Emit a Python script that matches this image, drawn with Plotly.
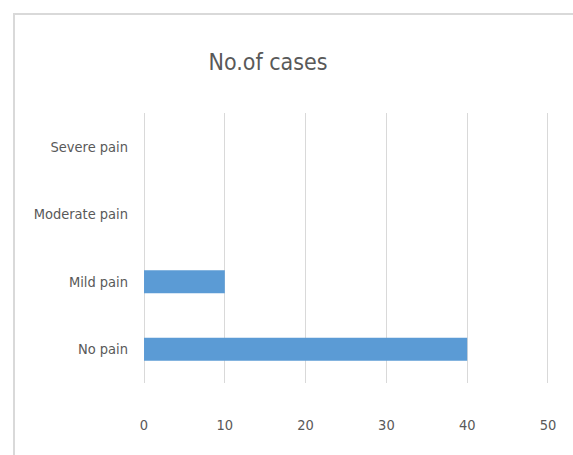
import plotly.graph_objects as go

# Pain levels (bottom to top) and number of cases
categories = ["No pain", "Mild pain", "Moderate pain", "Severe pain"]
cases = [40, 10, 0, 0]
x_ticks = [0, 10, 20, 30, 40, 50]

W, H = 573, 455
L, R, T, B = 142, 23, 113, 72
pw, ph = W - L - R, H - T - B

def px_x(px):
    return (px - L) / pw

def px_y(py):
    return (H - B - py) / ph

font_name = "Liberation Sans Narrow, DejaVu Sans Condensed, Roboto, sans-serif"
label_grey = "#595959"

fig = go.Figure(
    go.Bar(
        x=cases,
        y=categories,
        orientation="h",
        marker=dict(color="#5b9bd5", line=dict(width=0)),
        hoverinfo="x+y",
    )
)

fig.update_layout(
    width=W,
    height=H,
    margin=dict(l=L, r=R, t=T, b=B, pad=0),
    paper_bgcolor="white",
    plot_bgcolor="white",
    showlegend=False,
    bargap=0.66,
    font=dict(family=font_name, color=label_grey, size=14),
    title=dict(
        text="No.of cases",
        x=268 / W,
        xanchor="center",
        y=1 - 62 / H,
        yanchor="middle",
        font=dict(family=font_name, size=23, color=label_grey),
    ),
    xaxis=dict(
        range=[-0.25, 50.25],
        tickvals=x_ticks,
        showgrid=True,
        gridcolor="#d9d9d9",
        gridwidth=1,
        zeroline=False,
        showline=False,
        ticks="",
        ticklabelstandoff=31,
        tickfont=dict(size=14.5, color=label_grey),
        fixedrange=True,
    ),
    yaxis=dict(
        showgrid=False,
        zeroline=False,
        showline=False,
        ticks="",
        ticklabelstandoff=13,
        tickfont=dict(size=14.5, color=label_grey),
        fixedrange=True,
    ),
    shapes=[
        dict(
            type="rect",
            xref="paper",
            yref="paper",
            x0=px_x(14),
            x1=px_x(590),
            y0=px_y(470),
            y1=px_y(14),
            line=dict(color="#d9d9d9", width=2),
            fillcolor="rgba(0,0,0,0)",
            layer="below",
        )
    ],
)

fig.write_html("out.html")
